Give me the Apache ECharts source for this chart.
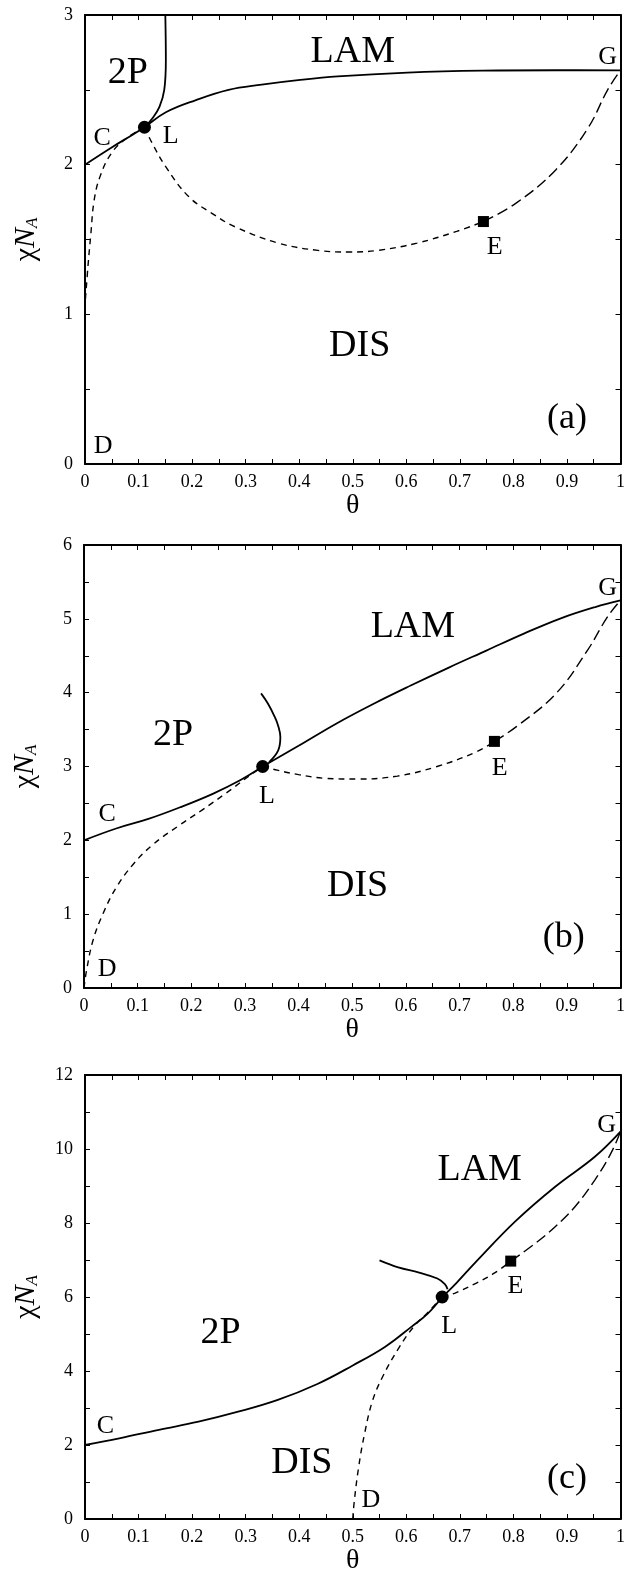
<!DOCTYPE html>
<html>
<head>
<meta charset="utf-8">
<script src="https://cdn.jsdelivr.net/npm/echarts@6/dist/echarts.min.js"></script>
<style>
  html, body { margin: 0; padding: 0; background: #fff; }
  #main { width: 628px; height: 1581px; }
</style>
</head>
<body>
<div id="main"></div>
<script>
// ---- data (theta, chiN_A) ----
var xTicks = [0, 1, 0.1];          // min, max, interval of theta
var yRanges = [[0, 3, 1], [0, 6, 1], [0, 12, 2]];

// panel (a)
var aSolid = [[0,2.0],[0.052,2.12],[0.089,2.20],[0.111,2.25],[0.151,2.35],[0.206,2.43],[0.268,2.50],[0.33,2.535],[0.398,2.565],[0.472,2.59],[0.602,2.615],[0.742,2.628],[0.879,2.631],[1,2.63]];
var aBranch = [[0.111,2.25],[0.126,2.31],[0.139,2.386],[0.148,2.50],[0.151,2.70],[0.150,3.0]];
var aDashLeft = [[0,0],[0,1.0],[0.004,1.25],[0.011,1.54],[0.017,1.76],[0.028,1.92],[0.049,2.075],[0.077,2.175],[0.111,2.25]];
var aDashLE = [[0.111,2.25],[0.123,2.16],[0.151,1.985],[0.194,1.785],[0.237,1.675],[0.28,1.585],[0.361,1.476],[0.435,1.427],[0.494,1.416],[0.546,1.427],[0.62,1.476],[0.694,1.554],[0.744,1.62]];
var aDashEG = [[0.744,1.62],[0.805,1.743],[0.879,1.965],[0.939,2.243],[0.976,2.50],[1,2.63]];
var aL = [0.111, 2.25], aE = [0.744, 1.62];
var aRegions = [['2P',0.08,2.61],['LAM',0.50,2.755],['DIS',0.513,0.786]];
var aPoints = [['C',0.032,2.18],['L',0.16,2.19],['E',0.765,1.45],['G',0.976,2.72],['D',0.034,0.118]];
var aTag = [['(a)',0.9,0.307]];

// panel (b)
var bSolidCL = [[0,2.0],[0.06,2.16],[0.12,2.29],[0.18,2.45],[0.24,2.63],[0.29,2.81],[0.333,3.0]];
var bSolidLG = [[0.333,3.0],[0.40,3.28],[0.47,3.58],[0.54,3.85],[0.61,4.10],[0.68,4.34],[0.75,4.57],[0.82,4.80],[0.89,5.01],[0.953,5.16],[1,5.25]];
var bBranch = [[0.345,3.06],[0.362,3.22],[0.366,3.40],[0.362,3.55],[0.355,3.68],[0.343,3.85],[0.330,3.99]];
var bDashLeft = [[0,0],[0.005,0.25],[0.017,0.65],[0.035,1.0],[0.06,1.36],[0.091,1.67],[0.128,1.94],[0.175,2.19],[0.22,2.41],[0.265,2.64],[0.30,2.83],[0.333,3.0]];
var bDashLE = [[0.333,3.0],[0.36,2.95],[0.40,2.89],[0.45,2.84],[0.51,2.83],[0.584,2.87],[0.658,3.0],[0.732,3.2],[0.765,3.34]];
var bDashEG = [[0.765,3.34],[0.806,3.54],[0.88,3.99],[0.939,4.58],[0.976,5.03],[1,5.25]];
var bL = [0.333, 3.0], bE = [0.765, 3.34];
var bRegions = [['LAM',0.613,4.89],['2P',0.166,3.43],['DIS',0.51,1.38]];
var bPoints = [['G',0.976,5.41],['C',0.043,2.35],['L',0.341,2.6],['E',0.775,2.98],['D',0.043,0.26]];
var bTag = [['(b)',0.894,0.68]];

// panel (c)
var cSolidCL = [[0,2.0],[0.064,2.18],[0.138,2.41],[0.212,2.63],[0.286,2.9],[0.36,3.22],[0.434,3.65],[0.50,4.15],[0.56,4.65],[0.61,5.2],[0.64,5.55],[0.667,6.0]];
var cSolidLG = [[0.667,6.0],[0.693,6.37],[0.73,6.95],[0.804,8.05],[0.878,8.98],[0.952,9.79],[1,10.47]];
var cBranch = [[0.677,6.21],[0.672,6.35],[0.658,6.50],[0.624,6.66],[0.585,6.80],[0.550,6.99]];
var cDashLeft = [[0.5,0],[0.503,0.5],[0.511,1.4],[0.522,2.3],[0.537,3.2],[0.556,3.85],[0.585,4.6],[0.614,5.2],[0.638,5.55],[0.667,6.0]];
var cDashLE = [[0.667,6.0],[0.69,6.1],[0.73,6.37],[0.765,6.65],[0.795,6.97]];
var cDashEG = [[0.795,6.97],[0.841,7.45],[0.878,7.9],[0.915,8.44],[0.952,9.16],[0.982,9.88],[1,10.47]];
var cL = [0.667, 6.0], cE = [0.795, 6.97];
var cRegions = [['LAM',0.737,9.43],['2P',0.253,5.02],['DIS',0.405,1.5]];
var cPoints = [['G',0.974,10.65],['C',0.038,2.5],['L',0.68,5.2],['E',0.804,6.28],['D',0.534,0.51]];
var cTag = [['(c)',0.9,1.1]];

var FONT = 'Liberation Serif';

var myChart = echarts.init(document.getElementById('main'));

var grids = [
  { left: 85, top: 15, width: 541, height: 449 },
  { left: 84, top: 545, width: 542, height: 443 },
  { left: 85, top: 1075, width: 542, height: 444 }
];

var xAxes = [], yAxes = [];
for (var i = 0; i < 3; i++) {
  // bottom + top (mirror, no labels)
  [false, true].forEach(function(mirror){
    xAxes.push({
      type: 'value', gridIndex: i, min: xTicks[0], max: xTicks[1], interval: xTicks[2],
      position: mirror ? 'top' : 'bottom',
      name: mirror ? '' : 'θ', nameLocation: 'middle', nameGap: 24,
      nameTextStyle: { fontFamily: FONT, fontSize: 28, color: '#000' },
      axisLine: { show: true, onZero: false, lineStyle: { color: '#000', width: 2 } },
      axisTick: { show: true, inside: true, length: 5, lineStyle: { color: '#000' } },
      minorTick: { show: true, splitNumber: 2, length: 5, lineStyle: { color: '#000' } },
      axisLabel: { show: !mirror, margin: 9, fontFamily: FONT, fontSize: 18, color: '#000' },
      splitLine: { show: false }
    });
  });
  // left + right (mirror, no labels)
  [false, true].forEach(function(mirror){
    yAxes.push({
      type: 'value', gridIndex: i, min: yRanges[i][0], max: yRanges[i][1], interval: yRanges[i][2],
      position: mirror ? 'right' : 'left',
      name: mirror ? '' : '{c|χ}{n|N}{s|A}', nameLocation: 'middle', nameGap: 44,
      nameTextStyle: {
        fontFamily: FONT, color: '#000',
        rich: {
          c: { fontFamily: FONT, fontSize: 30, color: '#000', lineHeight: 30 },
          n: { fontFamily: FONT, fontSize: 30, fontStyle: 'italic', color: '#000', lineHeight: 30 },
          s: { fontFamily: FONT, fontSize: 17, fontStyle: 'italic', color: '#000', verticalAlign: 'bottom', lineHeight: 30, padding: [12, 0, 0, 0] }
        }
      },
      axisLine: { show: true, onZero: false, lineStyle: { color: '#000', width: 2 } },
      axisTick: { show: true, inside: true, length: 5, lineStyle: { color: '#000' } },
      minorTick: { show: true, splitNumber: 2, length: 5, lineStyle: { color: '#000' } },
      axisLabel: { show: !mirror, margin: 12, fontFamily: FONT, fontSize: 18, color: '#000' },
      splitLine: { show: false }
    });
  });
}

function curve(idx, data, dash) {
  return {
    type: 'line', xAxisIndex: idx * 2, yAxisIndex: idx * 2, data: data,
    smooth: 0.4, showSymbol: false, symbol: 'none', silent: true,
    lineStyle: { color: '#000', width: dash ? 1.4 : 1.8, type: dash || 'solid', opacity: 1 },
    z: 3
  };
}
function marker(idx, pt, shape, size) {
  return {
    type: 'scatter', xAxisIndex: idx * 2, yAxisIndex: idx * 2, data: [pt],
    symbol: shape, symbolSize: size, itemStyle: { color: '#000', opacity: 1 }, z: 5, silent: true
  };
}
function texts(idx, list, size) {
  return {
    type: 'scatter', xAxisIndex: idx * 2, yAxisIndex: idx * 2, symbolSize: 0, silent: true, z: 6,
    itemStyle: { opacity: 1 },
    data: list.map(function(t){ return { name: t[0], value: [t[1], t[2]] }; }),
    label: { show: true, position: 'inside', formatter: '{b}', fontFamily: FONT, fontSize: size, color: '#000', opacity: 1 }
  };
}

var SHORT = [6, 5], LONG = [11, 5];

var series = [
  curve(0, aSolid), curve(0, aBranch), curve(0, aDashLeft, SHORT), curve(0, aDashLE, SHORT), curve(0, aDashEG, LONG),
  marker(0, aL, 'circle', 13), marker(0, aE, 'rect', 11),
  texts(0, aRegions, 38), texts(0, aPoints, 26), texts(0, aTag, 36),

  curve(1, bSolidCL), curve(1, bSolidLG), curve(1, bBranch), curve(1, bDashLeft, SHORT), curve(1, bDashLE, SHORT), curve(1, bDashEG, LONG),
  marker(1, bL, 'circle', 13), marker(1, bE, 'rect', 11),
  texts(1, bRegions, 38), texts(1, bPoints, 26), texts(1, bTag, 36),

  curve(2, cSolidCL), curve(2, cSolidLG), curve(2, cBranch), curve(2, cDashLeft, SHORT), curve(2, cDashLE, SHORT), curve(2, cDashEG, LONG),
  marker(2, cL, 'circle', 13), marker(2, cE, 'rect', 11),
  texts(2, cRegions, 38), texts(2, cPoints, 26), texts(2, cTag, 36)
];

var option = {
  backgroundColor: '#fff',
  animation: false,
  grid: grids,
  xAxis: xAxes,
  yAxis: yAxes,
  series: series
};

myChart.setOption(option);
</script>
</body>
</html>
